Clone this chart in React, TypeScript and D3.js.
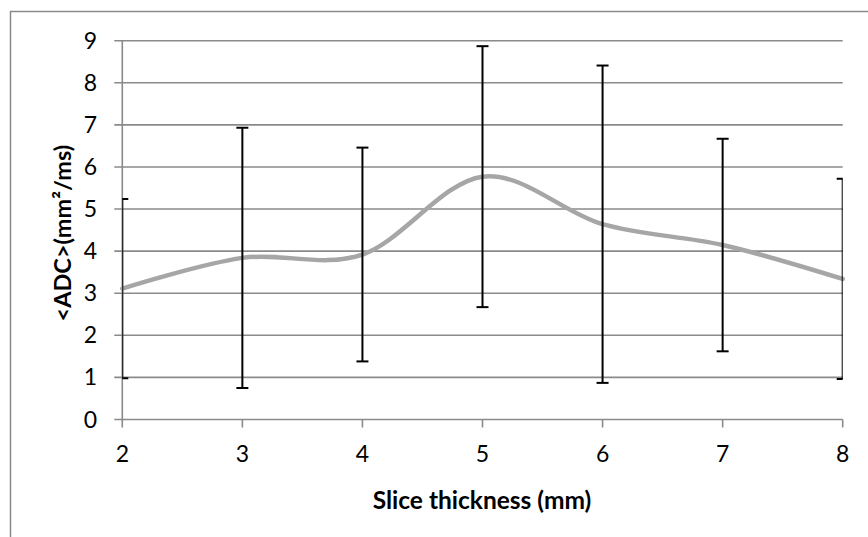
import React from "react";
import * as d3 from "d3";

const thickness = [2, 3, 4, 5, 6, 7, 8];
const meanADC = [3.11, 3.84, 3.92, 5.77, 4.64, 4.145, 3.34];
const errADC = [2.13, 3.09, 2.54, 3.1, 3.77, 2.525, 2.38];
const yTicks = [0, 1, 2, 3, 4, 5, 6, 7, 8, 9];
const xTicks = [2, 3, 4, 5, 6, 7, 8];
const xTitle = "Slice thickness (mm)";
const yTitle = "<ADC>(mm²/ms)";

const W = 868;
const H = 537;
const left = 122.3;
const right = 842.7;
const top = 40.7;
const bottom = 419.5;
const grid = "#8a8a8a";
const font = "Lato, 'Open Sans', sans-serif";

export default function App() {
  const x = d3.scaleLinear().domain([2, 8]).range([left, right]);
  const y = d3.scaleLinear().domain([0, 9]).range([bottom, top]);
  const pts = thickness.map((t, i) => [x(t), y(meanADC[i])] as [number, number]);
  const line = d3.line().curve(d3.curveCardinal.tension(0))(pts) || "";
  const cap = 6;
  return (
    <svg width={W} height={H} style={{ position: "absolute", left: 0, top: 0, background: "#fff" }}>
      <defs>
        <clipPath id="plot">
          <rect x={left} y={0} width={right - left} height={H} />
        </clipPath>
      </defs>
      <rect x={10.5} y={11.5} width={900} height={600} fill="#fff" stroke={grid} strokeWidth={1.5} />
      {yTicks.map((t) => (
        <line key={"g" + t} x1={left - 8} x2={right} y1={y(t)} y2={y(t)} stroke={grid} strokeWidth={1.6} />
      ))}
      <line x1={left} x2={left} y1={top} y2={bottom} stroke={grid} strokeWidth={1.6} />
      {xTicks.map((t) => (
        <line key={"xt" + t} x1={x(t)} x2={x(t)} y1={bottom} y2={bottom + 8} stroke={grid} strokeWidth={1.6} />
      ))}
      {yTicks.map((t) => (
        <text key={"yl" + t} x={97} y={y(t) + 8} textAnchor="end" fontFamily={font} fontSize={23} fill="#000">
          {t}
        </text>
      ))}
      {xTicks.map((t) => (
        <text key={"xl" + t} x={x(t)} y={462} textAnchor="middle" fontFamily={font} fontSize={23} fill="#000">
          {t}
        </text>
      ))}
      <path d={line} fill="none" stroke="#a6a6a6" strokeWidth={4.5} strokeLinecap="round" />
      <g clipPath="url(#plot)">
        {thickness.map((t, i) => {
          const cx = x(t);
          const y1 = y(meanADC[i] + errADC[i]);
          const y0 = y(meanADC[i] - errADC[i]);
          return (
            <g key={"e" + t} stroke="#000" strokeWidth={2}>
              <line x1={cx} x2={cx} y1={y1} y2={y0} />
              <line x1={cx - cap} x2={cx + cap} y1={y1} y2={y1} />
              <line x1={cx - cap} x2={cx + cap} y1={y0} y2={y0} />
            </g>
          );
        })}
      </g>
      <text x={482} y={509} textAnchor="middle" fontFamily={font} fontWeight="bold" fontSize={24.5} fill="#000">
        {xTitle}
      </text>
      <text
        transform={`translate(71,${(top + bottom) / 2 + 3}) rotate(-90)`}
        textAnchor="middle"
        fontFamily={font}
        fontWeight="bold"
        fontSize={23.5}
        fill="#000"
      >
        {yTitle}
      </text>
    </svg>
  );
}
